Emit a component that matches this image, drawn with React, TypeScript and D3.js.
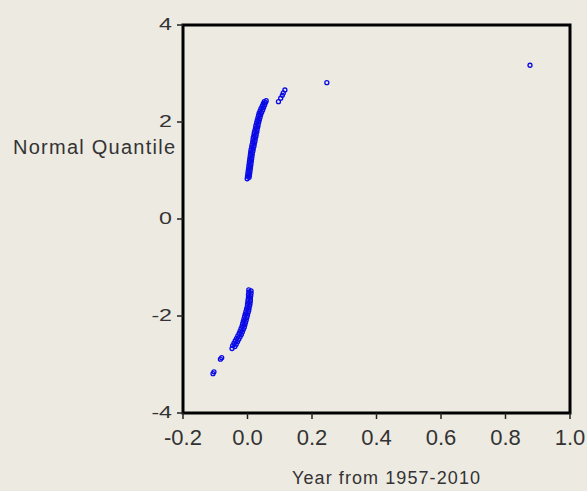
import React from "react";
import * as d3 from "d3";

const xTicks = [-0.2, 0.0, 0.2, 0.4, 0.6, 0.8, 1.0];
const xTickLabels = ["-0.2", "0.0", "0.2", "0.4", "0.6", "0.8", "1.0"];
const yTicks = [4, 2, 0, -2, -4];
const yTickLabels = ["4", "2", "0", "-2", "-4"];

// upper tail: year value vs normal quantile
const upperX = [
  -0.001, 0.005, 0.000, 0.006, 0.001, 0.007, 0.002, 0.008, 0.003, 0.009,
  0.004, 0.010, 0.005, 0.011, 0.006, 0.012, 0.007, 0.013, 0.008, 0.014,
  0.009, 0.015, 0.010, 0.017, 0.011, 0.018, 0.013, 0.020, 0.014, 0.021,
  0.016, 0.023, 0.017, 0.024, 0.018, 0.026, 0.020, 0.027, 0.021, 0.029,
  0.023, 0.030, 0.025, 0.032, 0.026, 0.033, 0.028, 0.035, 0.030, 0.037,
  0.032, 0.039, 0.034, 0.041, 0.036, 0.044, 0.039, 0.047, 0.042, 0.050,
  0.046, 0.053, 0.049, 0.056, 0.052, 0.058,
  0.096, 0.103, 0.108, 0.111, 0.116, 0.246, 0.876,
];
const upperY = [
  0.83, 0.86, 0.88, 0.90, 0.93, 0.95, 0.98, 1.00, 1.03, 1.05,
  1.08, 1.10, 1.13, 1.15, 1.18, 1.20, 1.23, 1.25, 1.28, 1.30,
  1.33, 1.35, 1.38, 1.40, 1.43, 1.45, 1.48, 1.50, 1.53, 1.55,
  1.58, 1.60, 1.63, 1.65, 1.68, 1.70, 1.73, 1.75, 1.78, 1.80,
  1.83, 1.85, 1.88, 1.90, 1.93, 1.95, 1.98, 2.00, 2.03, 2.05,
  2.08, 2.10, 2.13, 2.15, 2.18, 2.20, 2.23, 2.25, 2.28, 2.30,
  2.33, 2.35, 2.38, 2.40, 2.42, 2.44,
  2.42, 2.49, 2.55, 2.60, 2.66, 2.81, 3.17,
];

// lower tail
const lowerX = [
  0.004, 0.011, 0.004, 0.011, 0.003, 0.010, 0.003, 0.009, 0.002, 0.009,
  0.001, 0.008, 0.000, 0.007, -0.001, 0.005, -0.003, 0.004, -0.005, 0.002,
  -0.007, 0.000, -0.009, -0.002, -0.011, -0.004, -0.013, -0.006, -0.015, -0.008,
  -0.017, -0.010, -0.020, -0.013, -0.023, -0.016, -0.026, -0.019, -0.030, -0.023,
  -0.034, -0.027, -0.038, -0.031, -0.042, -0.035, -0.046, -0.039, -0.048,
  -0.080, -0.084, -0.104, -0.107,
];
const lowerY = [
  -1.46, -1.48, -1.51, -1.53, -1.56, -1.58, -1.61, -1.63, -1.66, -1.68,
  -1.71, -1.73, -1.76, -1.78, -1.81, -1.83, -1.86, -1.88, -1.91, -1.93,
  -1.96, -1.98, -2.01, -2.03, -2.06, -2.08, -2.11, -2.13, -2.16, -2.18,
  -2.21, -2.23, -2.26, -2.28, -2.31, -2.33, -2.36, -2.38, -2.41, -2.43,
  -2.46, -2.48, -2.51, -2.53, -2.56, -2.58, -2.61, -2.63, -2.67,
  -2.86, -2.89, -3.15, -3.19,
];

const W = 587;
const H = 491;
const left = 183;
const right = 570;
const top = 25;
const bottom = 413;

export default function App() {
  const x = d3.scaleLinear().domain([-0.2, 1.0]).range([left, right]);
  const y = d3.scaleLinear().domain([-4, 4]).range([bottom, top]);
  const pts: [number, number][] = [];
  upperX.forEach((v, i) => pts.push([v, upperY[i]]));
  lowerX.forEach((v, i) => pts.push([v, lowerY[i]]));
  const font = "Arial, 'Liberation Sans', sans-serif";
  const textColor = "#333333";
  return (
    <div style={{ position: "fixed", left: 0, top: 0, width: W, height: H }}>
      <svg width={W} height={H} style={{ display: "block" }}>
        <rect x={0} y={0} width={W} height={H} fill="#EDEAE2" />
        {pts.map(([a, b], i) => (
          <circle
            key={i}
            cx={x(a)}
            cy={y(b)}
            r={2}
            fill="none"
            stroke="#0A0AE6"
            strokeWidth={1.3}
          />
        ))}
        {/* frame */}
        <rect
          x={left}
          y={top}
          width={right - left}
          height={bottom - top}
          fill="none"
          stroke="#000"
          strokeWidth={3}
        />
        {/* y ticks */}
        {yTicks.map((t, i) => (
          <g key={"y" + i}>
            <line x1={left - 6} x2={left} y1={y(t)} y2={y(t)} stroke="#222" strokeWidth={1.5} />
            <text
              transform={`translate(172,${y(t) + 5}) scale(1.45,1)`}
              textAnchor="end"
              fontFamily={font}
              fontSize={16}
              fill={textColor}
            >
              {yTickLabels[i]}
            </text>
          </g>
        ))}
        {/* x ticks */}
        {xTicks.map((t, i) => (
          <g key={"x" + i}>
            <line x1={x(t)} x2={x(t)} y1={bottom} y2={bottom + 6} stroke="#222" strokeWidth={1.5} />
            <text
              x={x(t)}
              y={445}
              textAnchor="middle"
              fontFamily={font}
              fontSize={22}
              fill={textColor}
            >
              {xTickLabels[i]}
            </text>
          </g>
        ))}
        <text
          x={13}
          y={154}
          textLength={162}
          lengthAdjust="spacing"
          fontFamily={font}
          fontSize={20}
          fill={textColor}
        >
          Normal Quantile
        </text>
        <text
          x={292}
          y={484}
          textLength={188}
          lengthAdjust="spacing"
          fontFamily={font}
          fontSize={18}
          fill={textColor}
        >
          Year from 1957-2010
        </text>
      </svg>
    </div>
  );
}
